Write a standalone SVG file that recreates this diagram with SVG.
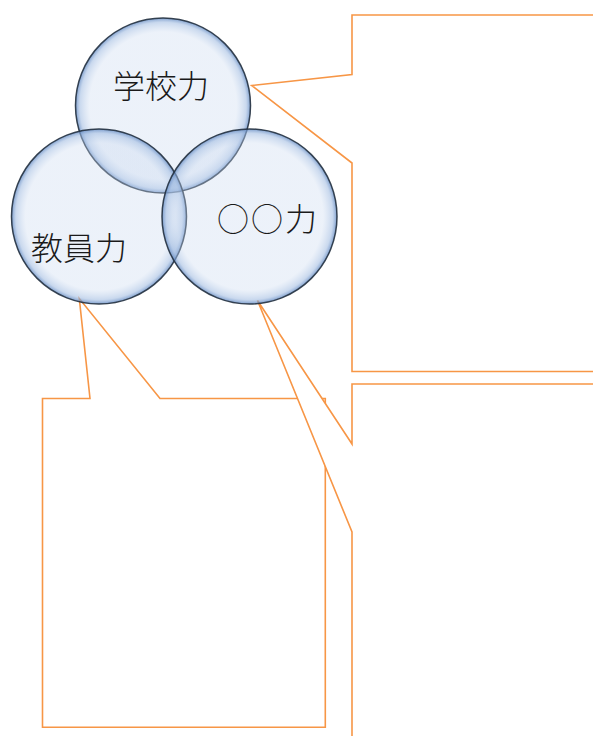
<svg xmlns="http://www.w3.org/2000/svg" width="593" height="736" viewBox="0 0 593 736">
<style>
.callout{fill:#ffffff;stroke:#F79646;stroke-width:1.6;stroke-linejoin:miter}
.circle{fill:url(#glass);stroke:#22303F;stroke-width:1.5;stroke-opacity:0.9}
.label{font-family:"Noto Sans CJK JP","Noto Sans CJK SC",sans-serif;font-size:32px;font-weight:300;fill:#1a1a1a;text-anchor:middle}
</style>
<defs>
<radialGradient id="glass" cx="0.5" cy="0.5" r="0.5">
<stop offset="0" stop-color="#C8D8EF" stop-opacity="0.34"/>
<stop offset="0.84" stop-color="#C8D8EF" stop-opacity="0.34"/>
<stop offset="0.95" stop-color="#9DB9E0" stop-opacity="0.55"/>
<stop offset="1" stop-color="#5E86C0" stop-opacity="0.8"/>
</radialGradient>
</defs>
<rect width="593" height="736" fill="#ffffff"/>
<g id="callout-school">
<path class="callout" d="M352,15 H600 V371.5 H352 V163 L251.7,85.5 L352,74.5 Z"/>
</g>
<g id="callout-teacher">
<path class="callout" d="M42.5,398.5 H90 L79.3,298.5 L160,398.5 H325.3 V727.3 H42.5 Z"/>
</g>
<g id="callout-other">
<path class="callout" d="M352,384 H600 V740 H352 V532 L257.5,300.5 L352,444 Z"/>
</g>
<g id="circle-school">
<circle class="circle" cx="163" cy="105.5" r="87.5"/>
<text class="label" x="161" y="97.5">学校力</text>
</g>
<g id="circle-teacher">
<circle class="circle" cx="99" cy="216.5" r="87.5"/>
<text class="label" x="79" y="260">教員力</text>
</g>
<g id="circle-other">
<circle class="circle" cx="249.5" cy="216.5" r="87.5"/>
<text class="label" x="268" y="231" letter-spacing="2">○○力</text>
</g>
</svg>
